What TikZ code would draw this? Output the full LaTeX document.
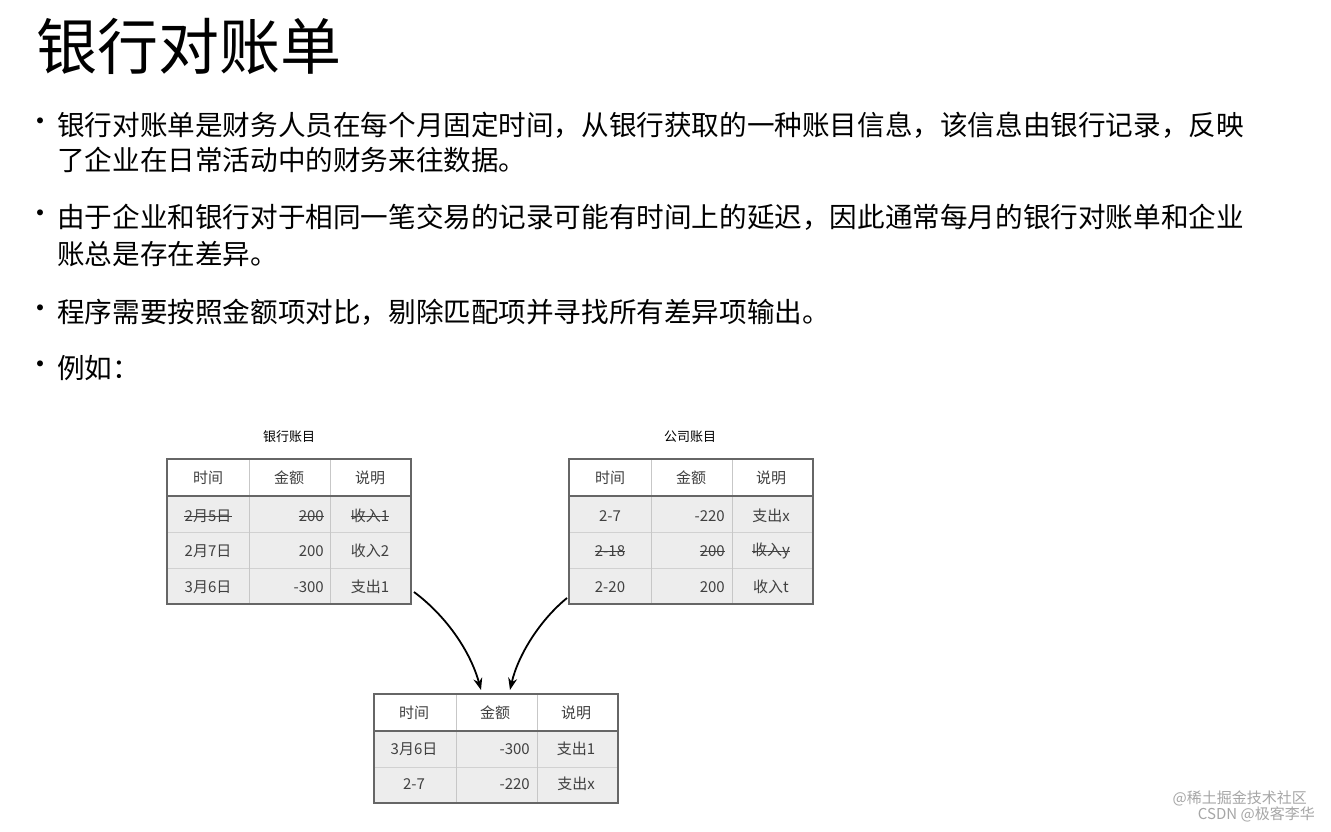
\documentclass[tikz,border=0pt]{standalone}
\usepackage{fontspec}
\setmainfont{Noto Sans CJK SC}
\usetikzlibrary{arrows.meta}
\begin{document}
\begin{tikzpicture}[x=1pt,y=-1pt,
  body/.style={anchor=west,inner sep=0,font=\fontsize{27.6}{30}\selectfont},
  cell/.style={inner sep=0,font=\fontsize{15}{18}\selectfont,text=black!75},
  captxt/.style={inner sep=0,font=\fontsize{13}{16}\selectfont},
  strike/.style={black!75,line width=0.9pt},
  arr/.style={-{Stealth[length=12pt,width=9pt]},line width=1.8pt}]
\useasboundingbox (0,0) rectangle (1331,832);
\fill[white] (0,0) rectangle (1331,832);
\node[anchor=west,inner sep=0,font=\fontsize{61}{66}\selectfont] (title) at (36,46) {银行对账单};
\foreach \y/\n in {125/a,217/b,312/c,368/d} \node[inner sep=0,font=\fontsize{28}{28}\selectfont] (bul\n) at (41,\y) {•};
\node[body] (l1) at (57,125) {银行对账单是财务人员在每个月固定时间，从银行获取的一种账目信息，该信息由银行记录，反映};
\node[body] (l2) at (57,160) {了企业在日常活动中的财务来往数据。};
\node[body] (l3) at (57,217) {由于企业和银行对于相同一笔交易的记录可能有时间上的延迟，因此通常每月的银行对账单和企业};
\node[body] (l4) at (57,254) {账总是存在差异。};
\node[body] (l5) at (57,312) {程序需要按照金额项对比，剔除匹配项并寻找所有差异项输出。};
\node[body] (l6) at (57,368) {例如：};
\def\tbl#1#2#3#4{%
  \fill[black!7] (#1,#2+37) rectangle (#1+244,#2+37+36*#3);
  \foreach \i in {1,...,#3} {\ifnum\i<#3 \draw[black!18,line width=0.8pt] (#1,#2+37+36*\i) -- (#1+244,#2+37+36*\i);\fi}
  \draw[black!22,line width=0.8pt] (#1+82,#2) -- (#1+82,#2+37+36*#3) (#1+163,#2) -- (#1+163,#2+37+36*#3);
  \draw[black!60,line width=2.2pt] (#1,#2+37) -- (#1+244,#2+37);
  \draw[black!60,line width=2.2pt] (#1,#2) rectangle coordinate (#4) (#1+244,#2+37+36*#3);
}
\tbl{167}{459}{3}{bank}
\tbl{569}{459}{3}{comp}
\tbl{374}{694}{2}{res}
\node[captxt] (capb) at (289,437) {银行账目};
\node[captxt] (capc) at (690,437) {公司账目};
\foreach \x/\t in {208/时间,289/金额,370/说明}{\node[cell] at (\x,478) {\t};}
\node[cell] (b11) at (208,516) {2月5日};
\node[cell,anchor=east] (b12) at (324,516) {200};
\node[cell] (b13) at (370,516) {收入1};
\node[cell] (b21) at (208,551) {2月7日};
\node[cell,anchor=east] (b22) at (324,551) {200};
\node[cell] (b23) at (370,551) {收入2};
\node[cell] (b31) at (208,587) {3月6日};
\node[cell,anchor=east] (b32) at (324,587) {-300};
\node[cell] (b33) at (370,587) {支出1};
\foreach \x/\t in {610/时间,691/金额,771/说明}{\node[cell] at (\x,478) {\t};}
\node[cell] (c11) at (610,516) {2-7};
\node[cell,anchor=east] (c12) at (725,516) {-220};
\node[cell] (c13) at (771,516) {支出x};
\node[cell] (c21) at (610,551) {2-18};
\node[cell,anchor=east] (c22) at (725,551) {200};
\node[cell] (c23) at (771,551) {收入y};
\node[cell] (c31) at (610,587) {2-20};
\node[cell,anchor=east] (c32) at (725,587) {200};
\node[cell] (c33) at (771,587) {收入t};
\foreach \n in {b11,b12,b13,c21,c22,c23} \draw[strike] (\n.west) -- (\n.east);
\foreach \x/\t in {414/时间,495/金额,576/说明}{\node[cell] at (\x,713) {\t};}
\node[cell] (r11) at (414,749) {3月6日};
\node[cell,anchor=east] (r12) at (530,749) {-300};
\node[cell] (r13) at (576,749) {支出1};
\node[cell] (r21) at (414,784) {2-7};
\node[cell,anchor=east] (r22) at (530,784) {-220};
\node[cell] (r23) at (576,784) {支出x};
\coordinate (s1) at (414,592); \coordinate (e1) at (481,690);
\coordinate (s2) at (567,598); \coordinate (e2) at (510,690);
\draw[arr] (s1) .. controls (445,615) and (470,650) .. (e1);
\draw[arr] (s2) .. controls (540,620) and (518,655) .. (e2);
\node[inner sep=0,anchor=east,font=\fontsize{15}{16}\selectfont,text=black!35] (w1) at (1307,798) {@稀土掘金技术社区};
\node[inner sep=0,anchor=east,font=\fontsize{15}{16}\selectfont,text=black!35] (w2) at (1315,814) {CSDN @极客李华};
\end{tikzpicture}
\end{document}
